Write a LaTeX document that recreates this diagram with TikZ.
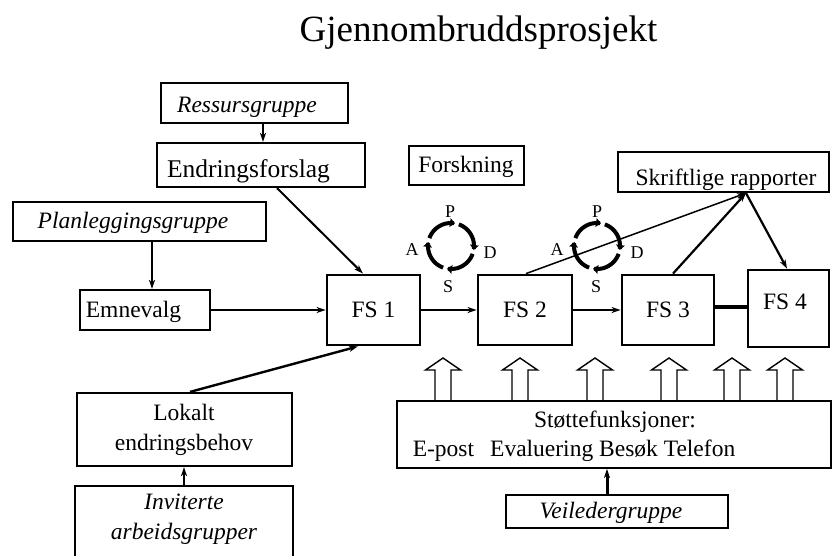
\documentclass[tikz,border=0pt]{standalone}
\usepackage{fontspec}
\setmainfont{Liberation Serif}
\usetikzlibrary{arrows.meta,calc}
\begin{document}
\begin{tikzpicture}[x=1pt,y=-1pt,
  bx/.style n args={2}{draw, line width=2.2pt, minimum width=#1, minimum height=#2, inner sep=0pt},
  fsbox/.style n args={2}{bx={#1}{#2}, line width=2.8pt},
  lbl/.style={font=\fontsize{23.5}{30}\selectfont, inner sep=0pt, align=center},
  ilbl/.style={lbl, font=\fontsize{23.5}{30}\selectfont\itshape},
  pdsa/.style={font=\fontsize{18}{20}\selectfont, inner sep=0pt},
  con/.style={line width=1.6pt, -{Stealth[length=9pt,width=6pt,inset=2.5pt]}},
  cyc/.style={line width=4pt, -{Triangle[length=5pt,width=8.5pt]}},
  blk/.style={draw, line width=1.4pt, fill=white, line join=miter}
]
\useasboundingbox (0,0) rectangle (837,556);
\clip (0,0) rectangle (837,556);

\node[lbl, font=\fontsize{37}{44}\selectfont, anchor=base] (title) at (478.5,42) {Gjennombruddsprosjekt};

% upper left
\node[bx={187pt}{40pt}] (res) at (254.5,103) {};
\node[ilbl] (res-t) at (247,107) {Ressursgruppe};
\node[bx={208pt}{44pt}] (endr) at (261,165) {};
\node[lbl, font=\fontsize{25.5}{30}\selectfont] (endr-t) at (248.5,171) {Endringsforslag};
\node[bx={115pt}{39pt}] (fors) at (466.5,165.5) {};
\node[lbl] (fors-t) at (466,167) {Forskning};
\node[bx={211pt}{40pt}] (skr) at (723.5,172) {};
\node[lbl] (skr-t) at (726,180) {Skriftlige rapporter};
\node[bx={253pt}{39pt}] (plan) at (139.5,221.5) {};
\node[ilbl] (plan-t) at (133,223) {Planleggingsgruppe};
\node[bx={130pt}{40pt}] (emn) at (145,310) {};
\node[lbl] (emn-t) at (133.5,312) {Emnevalg};

% FS boxes
\node[lbl, fsbox={93pt}{70pt}] (fs1) at (373.5,310) {FS 1};
\node[lbl, fsbox={94pt}{70pt}] (fs2) at (525,310) {FS 2};
\node[lbl, fsbox={92pt}{70pt}] (fs3) at (668,310) {FS 3};
\node[fsbox={81pt}{77pt}] (fs4) at (788.5,308.5) {};
\node[lbl] (fs4-t) at (785,302) {FS 4};

% lower left
\node[bx={215pt}{73pt}] (lok) at (184.5,429.5) {};
\node[lbl] (lok-t) at (184,429.5) {Lokalt\\endringsbehov};
\node[bx={218pt}{120pt}] (inv) at (184,546) {};
\node[ilbl] (inv-t) at (184,519.5) {Inviterte\\arbeidsgrupper};

% block arrows
\foreach \bx in {443,520,595,669,732,785}
  \draw[blk] (\bx-8,401) -- (\bx-8,370) -- (\bx-17.5,370) -- (\bx,358) -- (\bx+17.5,370) -- (\bx+8,370) -- (\bx+8,401);

% support
\node[bx={434pt}{67pt}, line width=1.8pt] (stt) at (614,434.5) {};
\node[lbl] (stt-t1) at (615,422) {Støttefunksjoner:};
\node[lbl] (stt-t2) at (574,451) {E-post\hspace{16pt}Evaluering Besøk Telefon};
\node[bx={222pt}{33pt}, line width=1.8pt] (vei) at (617,511.5) {};
\node[ilbl] (vei-t) at (611,513) {Veiledergruppe};

% PDSA cycles
\foreach \cx in {451,597} {
  \foreach \k in {0,1,2,3} {
    \pgfmathsetmacro\aa{160-90*\k}
    \pgfmathsetmacro\bb{80-90*\k}
    \draw[cyc] plot[domain=\aa:\bb, samples=25, smooth] ({\cx+23*cos(\x)},{246-23*sin(\x)});
  }
}
\node[pdsa] (p1) at (450,212) {P};
\node[pdsa] (a1) at (412,250) {A};
\node[pdsa] (d1) at (490,253) {D};
\node[pdsa] (s1) at (448,287) {S};
\node[pdsa] (p2) at (597,212) {P};
\node[pdsa] (a2) at (557,250) {A};
\node[pdsa] (d2) at (637,253) {D};
\node[pdsa] (s2) at (596,287) {S};

% connectors
\draw[con] ([xshift=8.5pt]res.south) -- ([xshift=8.5pt]res.south |- endr.north);
\draw[con] ([xshift=12.5pt]plan.south) -- ([xshift=12.5pt]plan.south |- emn.north);
\draw[con] (emn.east) -- (fs1.west);
\draw[con, line width=2pt] ([xshift=16pt]endr.south) -- ([xshift=-10.5pt]fs1.north);
\draw[con, line width=2.4pt] ([xshift=5.5pt]lok.north) -- ([xshift=-15.5pt]fs1.south);
\draw[con, line width=2.6pt] (inv.north) -- (inv.north |- lok.south);
\draw[con, line width=2pt] (fs1.east) -- (fs2.west);
\draw[con, line width=2pt] (fs2.east) -- (fs3.west);
\draw[line width=4pt] ([yshift=3pt]fs3.east) -- ([yshift=3pt]fs3.east -| fs4.west);
\coordinate (rp) at ([xshift=22.5pt]skr.south);
\draw[con, line width=1.5pt] ([xshift=1pt]fs2.north) -- (rp);
\draw[con, line width=2.2pt] ([xshift=5pt]fs3.north) -- (rp);
\draw[con, line width=2.2pt] (rp) -- ([xshift=-1.5pt]fs4.north);
\draw[con, line width=3pt] ([xshift=-10pt]vei.north) -- ([xshift=-10pt]vei.north |- stt.south);
\end{tikzpicture}
\end{document}
